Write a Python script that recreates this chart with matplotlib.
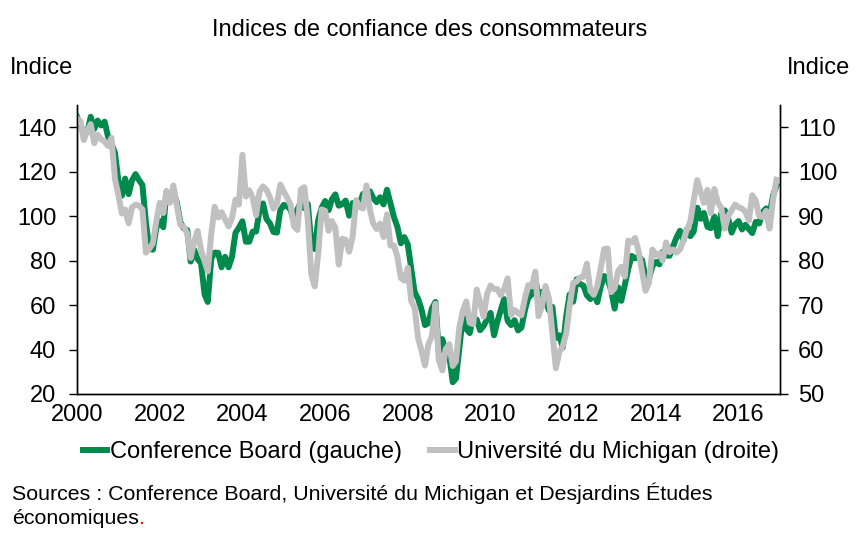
import numpy as np
import pandas as pd
import matplotlib
matplotlib.use('Agg')
import matplotlib.pyplot as plt

plt.rcParams['font.family'] = ['Liberation Sans', 'DejaVu Sans']

# monthly data, Jan 2000 - Dec 2016
conf_board = [
    144.7, 140.8, 137.1, 137.7, 144.7, 139.2, 143.0, 140.8, 142.5, 135.8, 132.6, 128.6,
    115.7, 109.2, 116.9, 109.9, 116.1, 118.9, 116.3, 114.0, 97.0, 85.3, 84.9, 94.6,
    97.8, 95.0, 110.7, 108.5, 110.3, 106.3, 97.4, 94.5, 93.7, 79.6, 84.9, 80.7,
    78.8, 64.8, 61.4, 81.0, 83.6, 83.5, 77.0, 81.7, 77.0, 81.7, 92.5, 94.8,
    97.7, 88.5, 88.5, 93.0, 93.1, 102.8, 105.7, 98.7, 96.7, 92.9, 92.6, 102.7,
    105.1, 104.4, 103.0, 97.5, 103.1, 106.2, 103.6, 105.5, 87.5, 85.2, 98.3, 103.8,
    106.8, 102.7, 107.5, 109.8, 104.7, 105.4, 107.0, 100.2, 105.9, 105.1, 105.3, 110.0,
    110.2, 111.2, 108.2, 106.3, 108.5, 105.3, 111.9, 105.6, 99.5, 95.2, 87.8, 90.6,
    87.3, 76.4, 65.9, 62.8, 58.1, 51.0, 51.9, 58.5, 61.4, 38.8, 44.7, 38.6,
    37.4, 25.3, 26.9, 40.8, 54.8, 49.3, 47.4, 54.5, 53.4, 48.7, 50.6, 53.6,
    56.5, 46.4, 52.3, 57.7, 62.7, 52.9, 51.0, 53.2, 48.6, 49.9, 57.8, 63.4,
    64.8, 72.0, 63.8, 66.0, 61.7, 57.6, 59.2, 45.2, 46.4, 40.9, 55.2, 64.8,
    61.5, 71.6, 69.5, 68.7, 64.4, 62.7, 65.4, 61.3, 68.4, 73.1, 71.5, 66.7,
    58.4, 68.0, 61.9, 69.0, 76.2, 82.1, 81.0, 81.8, 80.2, 72.4, 72.0, 77.5,
    79.4, 78.3, 83.9, 82.3, 82.2, 86.4, 90.3, 93.4, 89.0, 94.1, 91.0, 93.1,
    103.8, 98.8, 101.4, 95.2, 94.6, 99.8, 91.0, 101.3, 102.6, 99.1, 92.6, 96.3,
    97.8, 94.0, 96.1, 94.2, 92.4, 97.4, 96.7, 101.8, 103.5, 100.8, 109.4, 113.7,
]

michigan = [
    112.0, 111.3, 107.1, 109.2, 110.7, 106.4, 108.3, 107.3, 106.8, 105.8, 107.6, 98.4,
    94.7, 90.6, 91.5, 88.4, 92.0, 92.6, 92.4, 91.5, 81.8, 82.7, 83.9, 88.8,
    93.0, 90.7, 95.7, 93.0, 96.9, 92.4, 88.1, 87.6, 86.1, 80.6, 84.2, 86.7,
    82.4, 79.9, 77.6, 86.0, 92.1, 89.7, 90.9, 89.3, 87.7, 89.6, 93.7, 92.6,
    103.8, 94.4, 95.8, 94.2, 90.2, 95.6, 96.7, 95.9, 94.2, 91.7, 92.8, 97.1,
    95.5, 94.1, 92.6, 87.7, 86.9, 96.0, 96.5, 89.1, 76.9, 74.2, 81.6, 91.5,
    91.2, 86.7, 88.9, 87.4, 79.1, 84.9, 84.7, 82.0, 85.4, 93.6, 92.1, 91.7,
    96.9, 91.3, 88.4, 87.1, 88.3, 85.3, 90.4, 83.4, 83.4, 80.9, 76.1, 75.5,
    78.4, 70.8, 69.5, 62.6, 59.8, 56.4, 61.2, 63.0, 70.3, 57.6, 55.3, 60.1,
    61.2, 56.3, 57.3, 65.1, 68.7, 70.8, 66.0, 65.7, 73.5, 70.6, 67.4, 72.5,
    74.4, 73.6, 73.6, 72.2, 73.6, 76.0, 67.8, 68.9, 68.2, 67.7, 71.6, 74.5,
    74.2, 77.5, 67.5, 69.8, 74.3, 71.5, 63.7, 55.8, 59.5, 60.8, 63.7, 69.9,
    75.0, 75.3, 76.2, 76.4, 79.3, 73.2, 72.3, 74.3, 78.3, 82.6, 82.7, 72.9,
    73.8, 77.6, 78.6, 76.4, 84.5, 84.1, 85.1, 82.1, 77.5, 73.2, 75.1, 82.5,
    81.2, 81.6, 80.0, 84.1, 81.9, 82.5, 81.8, 82.5, 84.6, 86.9, 88.8, 93.6,
    98.1, 95.4, 93.0, 95.9, 90.7, 96.1, 93.1, 91.9, 87.2, 90.0, 91.3, 92.6,
    92.0, 91.7, 91.0, 89.0, 94.7, 93.5, 90.0, 89.8, 91.2, 87.2, 93.8, 98.2,
]

dates = pd.date_range('2000-01-01', periods=len(conf_board), freq='MS')
years = np.arange(2000, 2017, 2)

green = '#008A4B'
gray = '#C0C0C0'
fs = 17

fig = plt.figure(figsize=(8.6, 5.36), dpi=100)
ax = fig.add_axes([77/860, 1 - 394/536, 703/860, 289/536])
ax2 = ax.twinx()

l1, = ax.plot(dates, conf_board, color=green, lw=4.3, solid_joinstyle='round')
l2, = ax2.plot(dates, michigan, color=gray, lw=4.3, solid_joinstyle='round')

ax.set_xlim(pd.Timestamp('2000-01-01'), pd.Timestamp('2017-01-01'))
ax.set_ylim(20, 150)
ax2.set_ylim(50, 115)
ax.set_yticks(range(20, 141, 20))
ax2.set_yticks(range(50, 111, 10))
ax.set_xticks([pd.Timestamp(f'{y}-01-01') for y in years])
ax.set_xticklabels([str(y) for y in years])

for a in (ax, ax2):
    a.spines['top'].set_visible(False)
    for s in ('left', 'right', 'bottom'):
        a.spines[s].set_linewidth(1.0)
ax.tick_params(axis='x', length=0, labelsize=fs, pad=7)
ax.tick_params(axis='y', length=6, width=1, labelsize=fs, pad=9)
ax2.tick_params(axis='y', length=6, width=1, labelsize=fs, pad=7)

fig.text(0.5, 1 - 30/536, 'Indices de confiance des consommateurs', ha='center', va='center', fontsize=fs)
fig.text(10/860, 1 - 68/536, 'Indice', ha='left', va='center', fontsize=fs)
fig.text(850/860, 1 - 68/536, 'Indice', ha='right', va='center', fontsize=fs)

fig.legend([l1, l2], ['Conference Board (gauche)', 'Université du Michigan (droite)'],
           loc='center', bbox_to_anchor=(431/860, 1 - 452/536), ncol=2, frameon=False,
           fontsize=fs, handlelength=1.05, handletextpad=0.1, columnspacing=1.2)

src = fig.text(12/860, 1 - 493/536, 'Sources : Conference Board, Université du Michigan et Desjardins Études',
               ha='left', va='center', fontsize=15.4)
eco = fig.text(12/860, 1 - 519/536, 'économiques', ha='left', va='center', fontsize=15.4)
fig.canvas.draw()
bb = eco.get_window_extent()
fig.text(bb.x1 / 860, 1 - 519/536, '.', ha='left', va='center', fontsize=15.4, color='red')

fig.savefig('out.png', dpi=100)
